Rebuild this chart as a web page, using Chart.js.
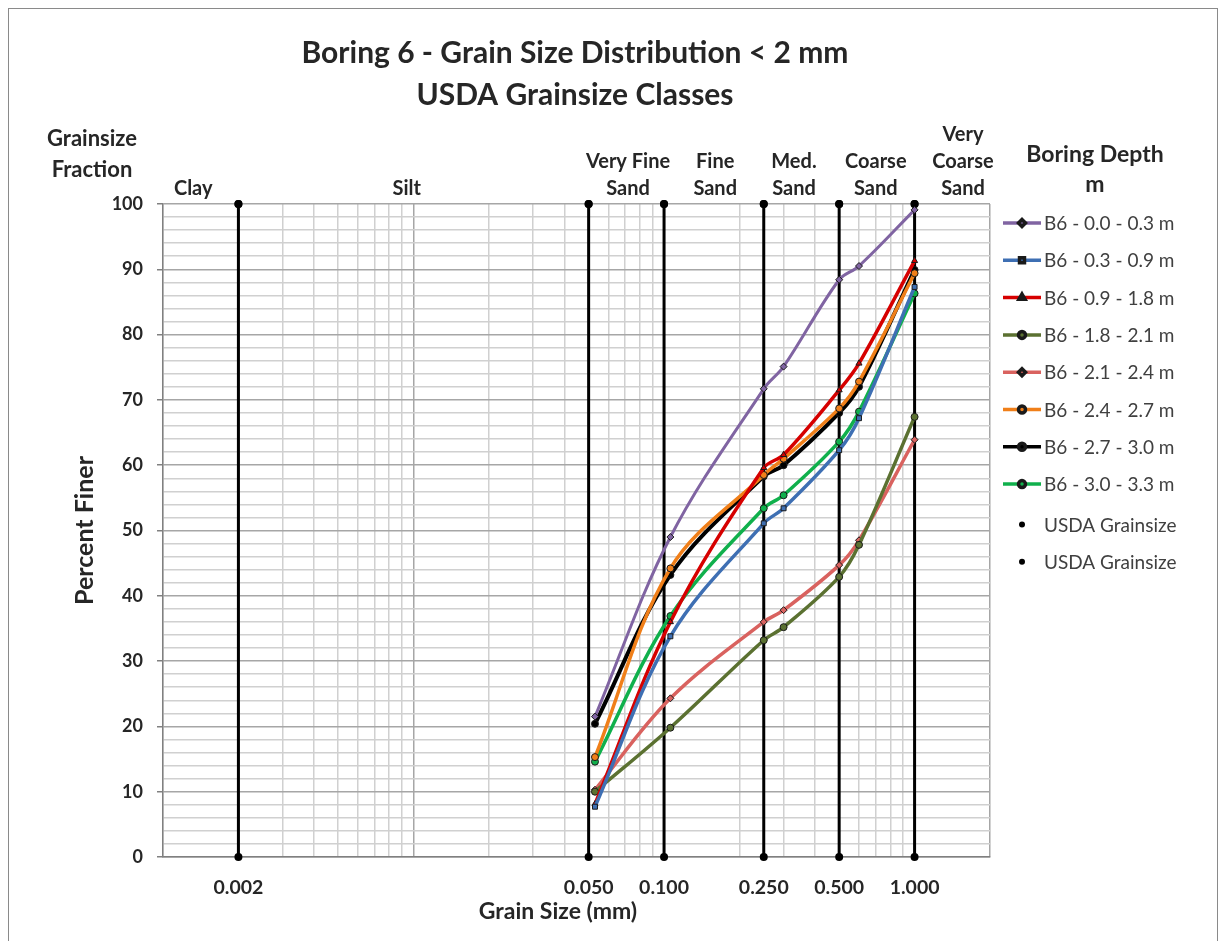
<!DOCTYPE html>
<html>
<head>
<meta charset="utf-8">
<script src="https://cdn.jsdelivr.net/npm/chart.js@4.4.1/dist/chart.umd.min.js"></script>
<style>
  html, body { margin: 0; padding: 0; background: #fff; }
</style>
</head>
<body>
<canvas id="myChart" width="1220" height="941"></canvas>
<script>
(function () {
    'use strict';

    // sieve sizes (mm) and percent finer per boring depth
    var sieveSizes = [0.053, 0.106, 0.25, 0.3, 0.5, 0.6, 1.0];
    var b6_00_03 = [21.5, 49.0, 71.7, 75.1, 88.4, 90.5, 99.1];
    var b6_03_09 = [7.7, 33.8, 51.1, 53.4, 62.3, 67.2, 87.3];
    var b6_09_18 = [8.1, 36.0, 59.6, 61.6, 71.5, 75.6, 91.3];
    var b6_18_21 = [10.0, 19.8, 33.2, 35.2, 42.9, 47.8, 67.4];
    var b6_21_24 = [10.3, 24.3, 36.0, 37.8, 44.7, 48.5, 63.9];
    var b6_24_27 = [15.3, 44.2, 58.5, 61.0, 68.7, 72.8, 89.4];
    var b6_27_30 = [20.4, 43.2, 58.3, 60.0, 68.0, 72.0, 89.9];
    var b6_30_33 = [14.6, 36.9, 53.4, 55.4, 63.6, 68.2, 86.3];

    // USDA class boundaries (mm)
    var usdaBounds = [0.002, 0.05, 0.1, 0.25, 0.5, 1.0];
    var usdaRange = [0, 100];
    var classNames = [['Clay'], ['Silt'], ['Very Fine', 'Sand'], ['Fine', 'Sand'],
        ['Med.', 'Sand'], ['Coarse', 'Sand'], ['Very', 'Coarse', 'Sand']];
    // grain size (mm) under which each class name sits
    var classLabelAt = [0.00132, 0.0094, 0.0718, 0.16, 0.33, 0.70, 1.56];

    // axis ticks
    var xLabelValues = [0.002, 0.05, 0.1, 0.25, 0.5, 1.0];
    var xMinorValues = [0.001, 0.002, 0.003, 0.004, 0.005, 0.006, 0.007, 0.008, 0.009,
        0.01, 0.02, 0.03, 0.04, 0.05, 0.06, 0.07, 0.08, 0.09,
        0.1, 0.2, 0.25, 0.3, 0.4, 0.5, 0.6, 0.7, 0.8, 0.9, 1.0, 2.0];
    var xMajorValues = [0.01, 0.1, 1.0, 2.0];

    var FONT = 'Lato';
    var TEXT = '#262626';
    Chart.defaults.font.family = FONT;

    function pts(values) {
        return values.map(function (v, i) { return {x: sieveSizes[i], y: v}; });
    }

    function usdaSegments() {
        var out = [];
        usdaBounds.forEach(function (b, i) {
            if (i > 0) out.push({x: b, y: null});
            out.push({x: b, y: usdaRange[0]});
            out.push({x: b, y: usdaRange[1]});
        });
        return out;
    }

    function series(label, values, color, style, width) {
        return {
            label: label,
            data: pts(values),
            borderColor: color,
            backgroundColor: color,
            borderWidth: width || 3.5,
            pointStyle: style,
            pointRadius: 3.5,
            pointBorderColor: '#1a1a1a',
            pointBorderWidth: 1,
            pointBackgroundColor: color,
            tension: 0.35,
            clip: false
        };
    }

    var datasets = [
        series('B6 - 0.0 - 0.3 m', b6_00_03, '#8064a2', 'rectRot', 3),
        series('B6 - 0.3 - 0.9 m', b6_03_09, '#3e6fb3', 'rect'),
        series('B6 - 0.9 - 1.8 m', b6_09_18, '#d60000', 'triangle'),
        series('B6 - 1.8 - 2.1 m', b6_18_21, '#5b7131', 'circle'),
        series('B6 - 2.1 - 2.4 m', b6_21_24, '#d9625f', 'rectRot'),
        series('B6 - 2.4 - 2.7 m', b6_24_27, '#f07f19', 'circle'),
        series('B6 - 2.7 - 3.0 m', b6_27_30, '#000000', 'circle', 4),
        series('B6 - 3.0 - 3.3 m', b6_30_33, '#10b04c', 'circle'),
        {
            label: 'USDA Grainsize',
            data: usdaSegments(),
            borderColor: '#000',
            backgroundColor: '#000',
            borderWidth: 3,
            pointStyle: 'circle',
            pointRadius: 4,
            pointBorderWidth: 0,
            spanGaps: false,
            tension: 0,
            clip: false
        },
        {
            label: 'USDA Grainsize',
            data: usdaBounds.map(function (b) { return {x: b, y: usdaRange[1]}; }),
            borderColor: '#000',
            backgroundColor: '#000',
            showLine: false,
            pointStyle: 'circle',
            pointRadius: 4,
            pointBorderWidth: 0,
            clip: false
        }
    ];

    // titles, class labels and legend
    var decor = {
        id: 'decor',
        beforeDraw: function (chart) {
            var ctx = chart.ctx;
            ctx.save();
            ctx.strokeStyle = '#8a8a8a';
            ctx.lineWidth = 1;
            ctx.strokeRect(8.5, 8.5, 1209, 960);
            ctx.restore();
        },
        afterDraw: function (chart) {
            var ctx = chart.ctx;
            var xs = chart.scales.x;
            ctx.save();
            ctx.fillStyle = TEXT;
            ctx.textAlign = 'center';
            ctx.textBaseline = 'middle';

            ctx.font = 'bold 30px ' + FONT;
            ctx.fillText('Boring 6 - Grain Size Distribution < 2 mm', 575, 53);
            ctx.fillText('USDA Grainsize Classes', 575, 95);

            ctx.font = 'bold 22px ' + FONT;
            ctx.fillText('Grainsize', 92, 139);
            ctx.fillText('Fraction', 92, 170);

            ctx.font = 'bold 23px ' + FONT;
            ctx.fillText('Boring Depth', 1095, 155);
            ctx.fillText('m', 1095, 185);

            ctx.font = 'bold 23px ' + FONT;
            ctx.fillText('Grain Size (mm)', 558, 912);

            ctx.font = 'bold 20px ' + FONT;
            classNames.forEach(function (lines, i) {
                var px = xs.getPixelForValue(classLabelAt[i]);
                lines.forEach(function (t, j) {
                    ctx.fillText(t, px, 189 - (lines.length - 1 - j) * 27);
                });
            });

            // legend
            ctx.textAlign = 'left';
            ctx.font = '19px ' + FONT;
            chart.data.datasets.forEach(function (ds, i) {
                var y = 223 + i * 37.3;
                if (i >= 8) y += 3;
                if (i < 8) {
                    ctx.strokeStyle = ds.borderColor;
                    ctx.lineWidth = 3.5;
                    ctx.beginPath();
                    ctx.moveTo(1003, y);
                    ctx.lineTo(1041, y);
                    ctx.stroke();
                }
                ctx.fillStyle = ds.pointBackgroundColor || ds.backgroundColor;
                ctx.strokeStyle = ds.pointBorderColor || '#000';
                Chart.helpers.drawPoint(ctx, {
                    pointStyle: ds.pointStyle,
                    radius: i < 8 ? 3.5 : 3,
                    rotation: 0,
                    borderWidth: ds.pointBorderWidth || 0
                }, 1022, y);
                ctx.fillStyle = '#404040';
                ctx.fillText(ds.label, 1044, y + 1);
            });
            ctx.restore();
        }
    };

    var ctx = document.getElementById('myChart');
    new Chart(ctx, {
        type: 'line',
        data: {datasets: datasets},
        plugins: [decor],
        options: {
            responsive: false,
            animation: false,
            devicePixelRatio: 1,
            layout: {
                padding: {left: 0, right: 230, top: 204, bottom: 0}
            },
            plugins: {
                legend: {display: false},
                title: {display: false},
                tooltip: {enabled: false}
            },
            scales: {
                x: {
                    type: 'logarithmic',
                    min: 0.001,
                    max: 2,
                    afterBuildTicks: function (scale) {
                        scale.ticks = xMinorValues.map(function (v) { return {value: v}; });
                    },
                    afterFit: function (scale) { scale.height = 84; },
                    border: {display: true, color: '#808080', width: 1.5},
                    grid: {
                        drawTicks: false,
                        lineWidth: 1.5,
                        color: function (c) {
                            if (!c.tick) return '#d0d0d0';
                            return xMajorValues.indexOf(c.tick.value) >= 0 ? '#a6a6a6' : '#d0d0d0';
                        }
                    },
                    ticks: {
                        autoSkip: false,
                        maxRotation: 0,
                        padding: 19,
                        color: TEXT,
                        font: {size: 19.5, weight: 'bold'},
                        callback: function (v) {
                            return xLabelValues.indexOf(v) >= 0 ? v.toFixed(3) : '';
                        }
                    }
                },
                y: {
                    type: 'linear',
                    min: 0,
                    max: 100,
                    afterFit: function (scale) { scale.width = 163; },
                    border: {display: true, color: '#808080', width: 1.5},
                    grid: {
                        tickLength: 6,
                        lineWidth: 1.5,
                        color: function (c) {
                            return c.tick && c.tick.value % 10 === 0 ? '#a6a6a6' : '#d0d0d0';
                        },
                        tickColor: function (c) {
                            return c.tick && c.tick.value % 10 === 0 ? '#808080' : 'rgba(0,0,0,0)';
                        }
                    },
                    ticks: {
                        stepSize: 2,
                        autoSkip: false,
                        padding: 14,
                        color: TEXT,
                        font: {size: 18, weight: 'bold'},
                        callback: function (v) { return v % 10 === 0 ? v : ''; }
                    },
                    title: {
                        display: true,
                        text: 'Percent Finer',
                        color: TEXT,
                        font: {size: 25, weight: 'bold'},
                        padding: {top: 70, bottom: 0}
                    }
                }
            }
        }
    });
})();
</script>
</body>
</html>
